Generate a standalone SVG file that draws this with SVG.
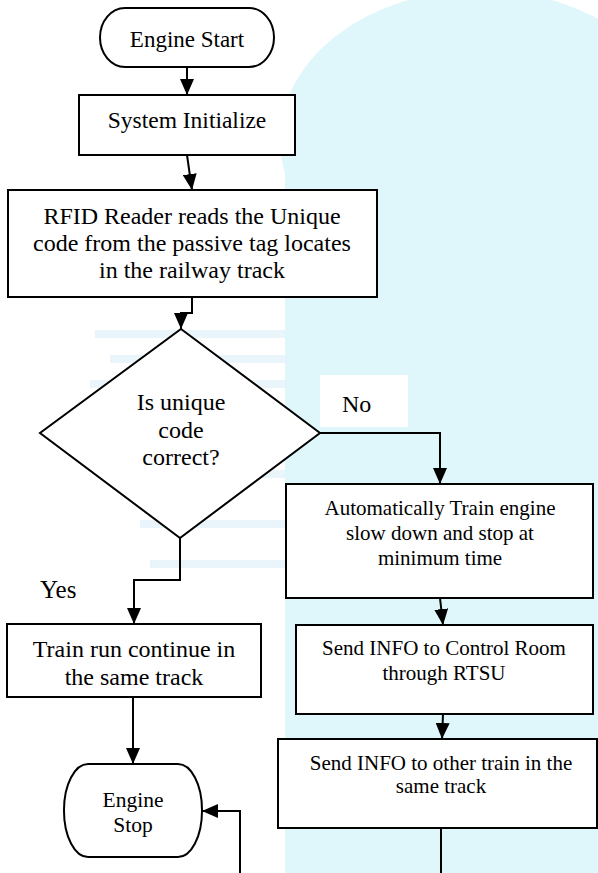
<svg xmlns="http://www.w3.org/2000/svg" width="598" height="873" viewBox="0 0 598 873">
<defs>
<style>
.box{fill:#ffffff;stroke:#000;stroke-width:2}
.ln{fill:none;stroke:#000;stroke-width:2}
.t{font-family:"Liberation Serif","Times New Roman",serif;fill:#000;text-anchor:middle}
.l{font-family:"Liberation Serif","Times New Roman",serif;fill:#000}
.wm{fill:#dff6fb}
.wm2{fill:#e9f5fb}
</style>
<marker id="ah" markerUnits="userSpaceOnUse" markerWidth="16" markerHeight="14" refX="16" refY="7" orient="auto">
<path d="M0,0 L16,7 L0,14 Z" fill="#000"/>
</marker>
</defs>
<rect width="598" height="873" fill="#ffffff"/>
<g id="watermark">
<ellipse class="wm" cx="480" cy="140" rx="200" ry="150"/>
<rect class="wm" x="285" y="150" width="313" height="723"/>
<rect class="wm2" x="95" y="330" width="190" height="8"/>
<rect class="wm2" x="110" y="355" width="175" height="8"/>
<rect class="wm2" x="90" y="380" width="195" height="8"/>
<rect class="wm2" x="120" y="420" width="165" height="8"/>
<rect class="wm2" x="130" y="470" width="155" height="8"/>
<rect class="wm2" x="140" y="520" width="145" height="8"/>
<rect class="wm2" x="150" y="560" width="135" height="8"/>
</g>
<g id="connectors">
<line class="ln" x1="187" y1="67" x2="187" y2="95" marker-end="url(#ah)"/>
<line class="ln" x1="187" y1="155" x2="192" y2="190" marker-end="url(#ah)"/>
<polyline class="ln" points="192,297 192,313 181,313 181,329" marker-end="url(#ah)"/>
<polyline class="ln" points="320,433 440,433 440,484" marker-end="url(#ah)"/>
<polyline class="ln" points="180,538 180,580 134,580 134,624" marker-end="url(#ah)"/>
<line class="ln" x1="440" y1="598" x2="443" y2="625" marker-end="url(#ah)"/>
<line class="ln" x1="443" y1="714" x2="442" y2="739" marker-end="url(#ah)"/>
<line class="ln" x1="133" y1="697" x2="133" y2="764" marker-end="url(#ah)"/>
<line class="ln" x1="441" y1="828" x2="441" y2="873"/>
<polyline class="ln" points="240,873 240,811 202,811" marker-end="url(#ah)"/>
</g>
<g id="engine-start">
<rect class="box" x="100" y="8" width="174" height="59" rx="25" ry="29.5"/>
<text class="t" x="187" y="47" font-size="23">Engine Start</text>
</g>
<g id="system-initialize">
<rect class="box" x="79" y="95" width="216" height="60"/>
<text class="t" x="187" y="128" font-size="23.5">System Initialize</text>
</g>
<g id="rfid-read">
<rect class="box" x="8" y="190" width="369" height="107"/>
<text class="t" x="192" y="224" font-size="24">RFID Reader reads the Unique</text>
<text class="t" x="192" y="251" font-size="24">code from the passive tag locates</text>
<text class="t" x="192" y="278" font-size="24">in the railway track</text>
</g>
<g id="decision">
<polygon class="box" points="181,329 320,433 180,538 40,433"/>
<text class="t" x="181" y="410" font-size="24">Is unique</text>
<text class="t" x="181" y="438" font-size="24">code</text>
<text class="t" x="181" y="465" font-size="24">correct?</text>
</g>
<g id="label-no">
<rect x="320" y="375" width="88" height="52" fill="#ffffff"/>
<text class="l" x="342" y="412" font-size="24">No</text>
</g>
<g id="label-yes">
<text class="l" x="40" y="598" font-size="25">Yes</text>
</g>
<g id="auto-slowdown">
<rect class="box" x="286" y="484" width="307" height="114"/>
<text class="t" x="440" y="515" font-size="21">Automatically Train engine</text>
<text class="t" x="440" y="540" font-size="21">slow down and stop at</text>
<text class="t" x="440" y="565" font-size="21">minimum time</text>
</g>
<g id="train-continue">
<rect class="box" x="7" y="624" width="254" height="73"/>
<text class="t" x="134" y="657" font-size="24">Train run continue in</text>
<text class="t" x="134" y="685" font-size="24">the same track</text>
</g>
<g id="send-control-room">
<rect class="box" x="296" y="625" width="297" height="89"/>
<text class="t" x="444" y="655" font-size="21">Send INFO to Control Room</text>
<text class="t" x="444" y="680" font-size="21">through RTSU</text>
</g>
<g id="send-other-train">
<rect class="box" x="278" y="739" width="319" height="89"/>
<text class="t" x="441" y="770" font-size="21">Send INFO to other train in the</text>
<text class="t" x="441" y="793" font-size="21">same track</text>
</g>
<g id="engine-stop">
<rect class="box" x="64" y="764" width="138" height="93" rx="24" ry="46"/>
<text class="t" x="133" y="807" font-size="21.5">Engine</text>
<text class="t" x="133" y="832" font-size="21.5">Stop</text>
</g>
</svg>
